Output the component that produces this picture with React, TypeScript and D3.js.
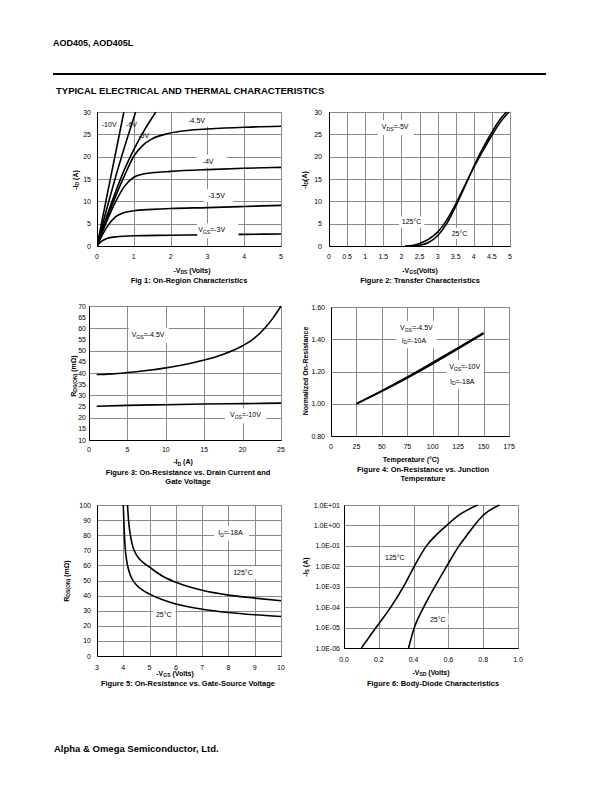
import React, { useEffect, useRef } from 'react';
import * as d3 from 'd3';

type P = [number, number];

// ---------- Fig 1: On-Region Characteristics (-VDS vs -ID) ----------
const f1XTicks = [0, 1, 2, 3, 4, 5];
const f1YTicks = [0, 5, 10, 15, 20, 25, 30];
const f1Vgs10: P[] = [[0, 0], [0.25, 10.4], [0.5, 20.6], [0.73, 30]];
const f1Vgs6: P[] = [[0, 0], [0.25, 7.9], [0.5, 15.3], [0.75, 22.2], [1.05, 30]];
const f1Vgs5: P[] = [[0, 0], [0.25, 6.3], [0.5, 12], [0.75, 17.2], [1, 21.6], [1.25, 25.4], [1.6, 30]];
const f1Vgs45: P[] = [[0, 0], [0.25, 5.8], [0.5, 11], [0.75, 15.8], [1, 20.1], [1.25, 22.6], [1.5, 24], [2, 25.3], [2.5, 25.9], [3, 26.2], [4, 26.6], [5, 26.8]];
const f1Vgs4: P[] = [[0, 0], [0.25, 5.2], [0.5, 9.8], [0.75, 13.4], [1, 15.4], [1.25, 16.1], [1.5, 16.4], [2, 16.7], [3, 17.1], [4, 17.4], [5, 17.6]];
const f1Vgs35: P[] = [[0, 0], [0.25, 4.0], [0.5, 6.5], [0.75, 7.5], [1, 7.9], [1.5, 8.2], [2, 8.4], [3, 8.6], [4, 8.85], [5, 9.1]];
const f1Vgs3: P[] = [[0, 0], [0.1, 0.9], [0.25, 1.6], [0.5, 2.05], [1, 2.3], [2, 2.4], [3, 2.5], [4, 2.6], [5, 2.7]];

// ---------- Fig 2: Transfer Characteristics ----------
const f2XTicks = [0, 0.5, 1, 1.5, 2, 2.5, 3, 3.5, 4, 4.5, 5];
const f2YTicks = [0, 5, 10, 15, 20, 25, 30];
const f2T125: P[] = [[2.1, 0], [2.3, 0.12], [2.5, 0.55], [2.75, 1.5], [3, 3.1], [3.25, 5.8], [3.5, 9.4], [3.75, 13.5], [4, 17.6], [4.25, 21.3], [4.5, 24.8], [4.75, 27.9], [4.97, 30]];
const f2T25: P[] = [[2.3, 0], [2.5, 0.15], [2.75, 0.8], [3, 2.3], [3.25, 5.0], [3.5, 8.9], [3.75, 13.3], [4, 17.8], [4.25, 21.9], [4.5, 25.5], [4.75, 28.6], [4.9, 30]];

// ---------- Fig 3: On-Resistance vs Drain Current ----------
const f3XTicks = [0, 5, 10, 15, 20, 25];
const f3YTicks = [10, 15, 20, 25, 30, 35, 40, 45, 50, 55, 60, 65, 70];
const f3Vgs45: P[] = [[1, 39.3], [2, 39.4], [3, 39.6], [5, 40.2], [7.5, 41.1], [10, 42.3], [12.5, 43.8], [15, 45.8], [17.5, 48.4], [20, 52.2], [21.5, 55.5], [23, 60.5], [24, 64.8], [25, 70]];
const f3Vgs10: P[] = [[1, 25.1], [5, 25.5], [10, 25.8], [15, 26.1], [20, 26.3], [25, 26.5]];

// ---------- Fig 4: On-Resistance vs Junction Temperature ----------
const f4XTicks = [0, 25, 50, 75, 100, 125, 150, 175];
const f4YTicks = [0.8, 1.0, 1.2, 1.4, 1.6];
const f4Vgs45: P[] = [[25, 1.0], [50, 1.077], [75, 1.16], [100, 1.248], [125, 1.34], [150, 1.435]];
const f4Vgs10: P[] = [[25, 1.0], [50, 1.081], [75, 1.166], [100, 1.256], [125, 1.347], [150, 1.44]];

// ---------- Fig 5: On-Resistance vs Gate-Source Voltage ----------
const f5XTicks = [3, 4, 5, 6, 7, 8, 9, 10];
const f5YTicks = [0, 10, 20, 30, 40, 50, 60, 70, 80, 90, 100];
const f5T125: P[] = [[4.16, 100], [4.2, 90], [4.27, 80], [4.37, 72], [4.5, 67], [4.75, 62], [5, 58.8], [5.5, 52.8], [6, 48.8], [7, 43.5], [8, 40.3], [9, 38.3], [10, 36.6]];
const f5T25: P[] = [[4.0, 100], [4.03, 85], [4.07, 72], [4.13, 63], [4.22, 56], [4.35, 50.5], [4.5, 47], [4.75, 43.5], [5, 41], [5.5, 37.2], [6, 34.4], [7, 31], [8, 28.8], [9, 27.3], [10, 26.2]];

// ---------- Fig 6: Body-Diode Characteristics ----------
const f6XTicks = [0, 0.2, 0.4, 0.6, 0.8, 1.0];
const f6YTicks = [1e-6, 1e-5, 1e-4, 1e-3, 1e-2, 1e-1, 1e0, 1e1];
const f6T125: P[] = [[0.1, 1e-6], [0.184, 1e-5], [0.269, 1e-4], [0.342, 1e-3], [0.404, 1e-2], [0.474, 1e-1], [0.526, 0.316], [0.59, 1], [0.66, 3.16], [0.768, 10]];
const f6T25: P[] = [[0.371, 1e-6], [0.404, 1e-5], [0.458, 1e-4], [0.522, 1e-3], [0.59, 1e-2], [0.661, 1e-1], [0.705, 0.32], [0.749, 1], [0.8, 3.16], [0.894, 10]];

const FONT = '"Liberation Sans", Arial, Helvetica, sans-serif';
const GRID = '#8a8a8a';

type Label = { x: number; y: number; s: string; bg?: boolean; pad?: [number, number, number, number] };
type Cfg = {
  L: number; R: number; T: number; B: number;
  xDomain: [number, number]; xTicks: number[]; xGrid: number[]; xFmt: (v: number) => string;
  yDomain: [number, number]; yTicks: number[]; yGrid: number[]; yFmt: (v: number) => string; yLog?: boolean;
  series: P[][]; labels: Label[];
  xTickOff: number; yTickOff: number;
  xTitle: [string, number, number]; yTitle: [string, number, number];
  caption: string[]; capX: number; capY: number; capDy: number;
};

function parts(s: string) {
  const out: { t: string; sub: boolean }[] = [];
  const re = /_\{([^}]*)\}/g;
  let last = 0;
  let m: RegExpExecArray | null;
  while ((m = re.exec(s))) {
    if (m.index > last) out.push({ t: s.slice(last, m.index), sub: false });
    out.push({ t: m[1], sub: true });
    last = m.index + m[0].length;
  }
  if (last < s.length) out.push({ t: s.slice(last), sub: false });
  return out;
}

function addText(g: any, x: number, y: number, s: string, fs: number, weight: string, anchor: string) {
  const t = g.append('text').attr('x', x).attr('y', y).attr('font-size', fs)
    .attr('font-weight', weight).attr('text-anchor', anchor).attr('fill', '#000')
    .style('white-space', 'pre');
  let prevSub = false;
  for (const p of parts(s)) {
    const ts = t.append('tspan').text(p.t);
    if (p.sub) ts.attr('font-size', fs * 0.72);
    const dy = p.sub && !prevSub ? fs * 0.25 : !p.sub && prevSub ? -fs * 0.25 : 0;
    if (dy) ts.attr('dy', dy);
    prevSub = p.sub;
  }
  return t;
}

const fmtPlain = (v: number) => String(v);
const fmt1 = d3.format('.1f');
const fmt2 = d3.format('.2f');
const fmtSci = (v: number) => {
  const e = Math.round(Math.log10(v));
  return `1.0E${e < 0 ? '-' : '+'}${String(Math.abs(e)).padStart(2, '0')}`;
};

const charts: Cfg[] = [
  {
    L: 97, R: 281, T: 112, B: 246,
    xDomain: [0, 5], xTicks: f1XTicks, xGrid: [1, 2, 3, 4], xFmt: fmtPlain,
    yDomain: [0, 30], yTicks: f1YTicks, yGrid: [5, 10, 15, 20, 25], yFmt: fmtPlain,
    series: [f1Vgs10, f1Vgs6, f1Vgs5, f1Vgs45, f1Vgs4, f1Vgs35, f1Vgs3],
    labels: [
      { x: 0.13, y: 27.3, s: '-10V' },
      { x: 0.79, y: 27.1, s: '-6V' },
      { x: 1.12, y: 24.7, s: '-5V' },
      { x: 2.48, y: 28.2, s: '-4.5V', bg: true, pad: [4, 3, 6, 3] },
      { x: 2.87, y: 19.0, s: '-4V', bg: true, pad: [6, 3, 13, 3] },
      { x: 3.02, y: 11.3, s: '-3.5V', bg: true, pad: [4, 3, 8, 3] },
      { x: 2.75, y: 3.6, s: 'V_{GS}=-3V', bg: true, pad: [1, 3, 13, 3] },
    ],
    xTickOff: 12.5, yTickOff: 6,
    xTitle: ['-V_{DS} (Volts)', 192, 270], yTitle: ['-I_{D} (A)', 75, 180],
    caption: ['Fig 1: On-Region Characteristics'], capX: 189, capY: 280, capDy: 9,
  },
  {
    L: 329, R: 510, T: 112, B: 246,
    xDomain: [0, 5], xTicks: f2XTicks, xGrid: [0.5, 1, 1.5, 2, 2.5, 3, 3.5, 4, 4.5], xFmt: fmtPlain,
    yDomain: [0, 30], yTicks: f2YTicks, yGrid: [5, 10, 15, 20, 25], yFmt: fmtPlain,
    series: [f2T125, f2T25],
    labels: [
      { x: 1.46, y: 26.7, s: 'V_{DS}=-5V', bg: true, pad: [4, 3, 5, 3] },
      { x: 2.01, y: 5.4, s: '125°C', bg: true, pad: [3, 2, 3, 2] },
      { x: 3.39, y: 2.85, s: '25°C', bg: true, pad: [3, 2, 3, 2] },
    ],
    xTickOff: 12.5, yTickOff: 7,
    xTitle: ['-V_{GS}(Volts)', 420, 270], yTitle: ['-I_{D}(A)', 304, 180],
    caption: ['Figure 2: Transfer Characteristics'], capX: 420, capY: 280, capDy: 9,
  },
  {
    L: 89, R: 281, T: 306, B: 440,
    xDomain: [0, 25], xTicks: f3XTicks, xGrid: [5, 10, 15, 20], xFmt: fmtPlain,
    yDomain: [10, 70], yTicks: f3YTicks, yGrid: [20, 30, 40, 50, 60], yFmt: fmtPlain,
    series: [f3Vgs45, f3Vgs10],
    labels: [
      { x: 5.56, y: 57.3, s: 'V_{GS}=-4.5V', bg: true, pad: [3, 3, 4, 3] },
      { x: 18.36, y: 21.2, s: 'V_{GS}=-10V', bg: true, pad: [5, 3, 5, 3] },
    ],
    xTickOff: 11.5, yTickOff: 3,
    xTitle: ['-I_{D} (A)', 183, 461.5], yTitle: ['R_{DS(ON)} (mΩ)', 73, 376],
    caption: ['Figure 3: On-Resistance vs. Drain Current and', 'Gate Voltage'], capX: 188, capY: 472, capDy: 9,
  },
  {
    L: 331, R: 509, T: 307, B: 436,
    xDomain: [0, 175], xTicks: f4XTicks, xGrid: [25, 50, 75, 100, 125, 150], xFmt: fmtPlain,
    yDomain: [0.8, 1.6], yTicks: f4YTicks, yGrid: [1.0, 1.2, 1.4], yFmt: fmt2,
    series: [f4Vgs45, f4Vgs10],
    labels: [
      { x: 67.8, y: 1.472, s: 'V_{GS}=-4.5V', bg: true, pad: [4, 3, 4, 3] },
      { x: 69.5, y: 1.395, s: 'I_{D}=-10A', bg: true, pad: [5, 3, 10, 3] },
      { x: 116.3, y: 1.23, s: 'V_{GS}=-10V', bg: true, pad: [3, 3, 3, 3] },
      { x: 117, y: 1.141, s: 'I_{D}=-18A', bg: true, pad: [4, 3, 8, 3] },
    ],
    xTickOff: 12.5, yTickOff: 6,
    xTitle: ['Temperature (°C)', 411, 459.5], yTitle: ['Normalized On-Resistance', 305, 371],
    caption: ['Figure 4: On-Resistance vs. Junction', 'Temperature'], capX: 423, capY: 469.5, capDy: 9,
  },
  {
    L: 97, R: 281, T: 505, B: 656,
    xDomain: [3, 10], xTicks: f5XTicks, xGrid: [4, 5, 6, 7, 8, 9], xFmt: fmtPlain,
    yDomain: [0, 100], yTicks: f5YTicks, yGrid: [10, 20, 30, 40, 50, 60, 70, 80, 90], yFmt: fmtPlain,
    series: [f5T125, f5T25],
    labels: [
      { x: 7.61, y: 81.9, s: 'I_{D}=-18A', bg: true, pad: [4, 3, 6, 3] },
      { x: 8.18, y: 55.2, s: '125°C', bg: true, pad: [3, 3, 4, 3] },
      { x: 5.24, y: 27.2, s: '25°C', bg: true, pad: [3, 3, 4, 3] },
    ],
    xTickOff: 14, yTickOff: 6,
    xTitle: ['-V_{GS} (Volts)', 175, 673], yTitle: ['R_{DS(ON)} (mΩ)', 66, 581],
    caption: ['Figure 5: On-Resistance vs. Gate-Source Voltage'], capX: 188, capY: 683.5, capDy: 9,
  },
  {
    L: 344, R: 518, T: 505, B: 648,
    xDomain: [0, 1], xTicks: f6XTicks, xGrid: [0.2, 0.4, 0.6, 0.8], xFmt: fmt1,
    yDomain: [1e-6, 1e1], yTicks: f6YTicks, yGrid: [1e-5, 1e-4, 1e-3, 1e-2, 1e-1, 1e0], yFmt: fmtSci, yLog: true,
    series: [f6T125, f6T25],
    labels: [
      { x: 0.236, y: 2.7e-2, s: '125°C', bg: true, pad: [3, 2, 3, 2] },
      { x: 0.494, y: 2.6e-5, s: '25°C', bg: true, pad: [3, 2, 3, 2] },
    ],
    xTickOff: 13.5, yTickOff: 4,
    xTitle: ['-V_{SD} (Volts)', 431, 672], yTitle: ['-I_{S} (A)', 305, 567],
    caption: ['Figure 6: Body-Diode Characteristics'], capX: 433, capY: 683.5, capDy: 9,
  },
];

function drawChart(svg: any, c: Cfg, idx: number) {
  const g = svg.append('g');
  const x = d3.scaleLinear().domain(c.xDomain).range([c.L, c.R]);
  const y: any = c.yLog
    ? d3.scaleLog().domain(c.yDomain).range([c.B, c.T])
    : d3.scaleLinear().domain(c.yDomain).range([c.B, c.T]);
  const cx = (v: number) => Math.round(x(v)) + 0.5;
  const cy = (v: number) => Math.round(y(v)) + 0.5;
  const L = cx(c.xDomain[0]), R = cx(c.xDomain[1]), T = cy(c.yDomain[1]), B = cy(c.yDomain[0]);

  g.append('g').selectAll('line').data(c.xGrid).join('line')
    .attr('x1', cx).attr('x2', cx).attr('y1', T).attr('y2', B).attr('stroke', GRID).attr('stroke-width', 1);
  g.append('g').selectAll('line').data(c.yGrid).join('line')
    .attr('y1', cy).attr('y2', cy).attr('x1', L).attr('x2', R).attr('stroke', GRID).attr('stroke-width', 1);
  g.append('rect').attr('x', L).attr('y', T).attr('width', R - L).attr('height', B - T)
    .attr('fill', 'none').attr('stroke', GRID).attr('stroke-width', 1);
  g.append('line').attr('x1', L).attr('x2', L).attr('y1', T).attr('y2', B).attr('stroke', '#000');
  g.append('line').attr('x1', L).attr('x2', R).attr('y1', B).attr('y2', B).attr('stroke', '#000');

  const id = 'clip' + idx;
  g.append('clipPath').attr('id', id).append('rect')
    .attr('x', L).attr('y', T - 1).attr('width', R - L).attr('height', B - T + 1);
  const line = d3.line<P>().x(d => x(d[0])).y(d => y(d[1])).curve(d3.curveMonotoneX);
  g.append('g').attr('clip-path', `url(#${id})`).selectAll('path').data(c.series).join('path')
    .attr('d', (d: P[]) => line(d)).attr('fill', 'none').attr('stroke', '#000')
    .attr('stroke-width', 1.6).attr('stroke-linejoin', 'round');

  c.labels.forEach(lb => {
    const lg = g.append('g');
    const rect = lb.bg ? lg.append('rect').attr('fill', '#fff') : null;
    const t = addText(lg, x(lb.x), y(lb.y) + 2.5, lb.s, 7, 'normal', 'start');
    if (rect) {
      const bb = t.node().getBBox();
      const [pl, pt, pr, pb] = lb.pad || [2, 2, 2, 2];
      rect.attr('x', bb.x - pl).attr('y', bb.y - pt)
        .attr('width', bb.width + pl + pr).attr('height', bb.height + pt + pb);
    }
  });

  c.xTicks.forEach(v => addText(g, x(v), c.B + c.xTickOff, c.xFmt(v), 7, 'normal', 'middle'));
  c.yTicks.forEach(v => addText(g, c.L - c.yTickOff, y(v) + 2.5, c.yFmt(v), 7, 'normal', 'end'));

  addText(g, c.xTitle[1], c.xTitle[2] + 2.5, c.xTitle[0], 7, 'bold', 'middle');
  const yt = g.append('g').attr('transform', `translate(${c.yTitle[1]},${c.yTitle[2]}) rotate(-90)`);
  addText(yt, 0, 2.5, c.yTitle[0], 7, 'bold', 'middle');
  c.caption.forEach((ln, i) => addText(g, c.capX, c.capY + i * c.capDy + 2.7, ln, 7.5, 'bold', 'middle'));
}

export default function App() {
  const ref = useRef<SVGSVGElement>(null);
  useEffect(() => {
    const svg = d3.select(ref.current);
    svg.selectAll('*').remove();
    svg.append('rect').attr('width', 612).attr('height', 792).attr('fill', '#fff');
    addText(svg, 53, 46, 'AOD405, AOD405L', 9, 'bold', 'start');
    svg.append('line').attr('x1', 53).attr('x2', 546).attr('y1', 74).attr('y2', 74)
      .attr('stroke', '#000').attr('stroke-width', 2);
    addText(svg, 56, 94, 'TYPICAL ELECTRICAL AND THERMAL CHARACTERISTICS', 9.5, 'bold', 'start');
    charts.forEach((c, i) => drawChart(svg, c, i));
    addText(svg, 54, 752, 'Alpha & Omega Semiconductor, Ltd.', 9.5, 'bold', 'start');
  }, []);
  return (
    <svg
      ref={ref}
      width={612}
      height={792}
      viewBox="0 0 612 792"
      style={{ position: 'absolute', left: 0, top: 0, background: '#fff' }}
      fontFamily={FONT}
    />
  );
}
